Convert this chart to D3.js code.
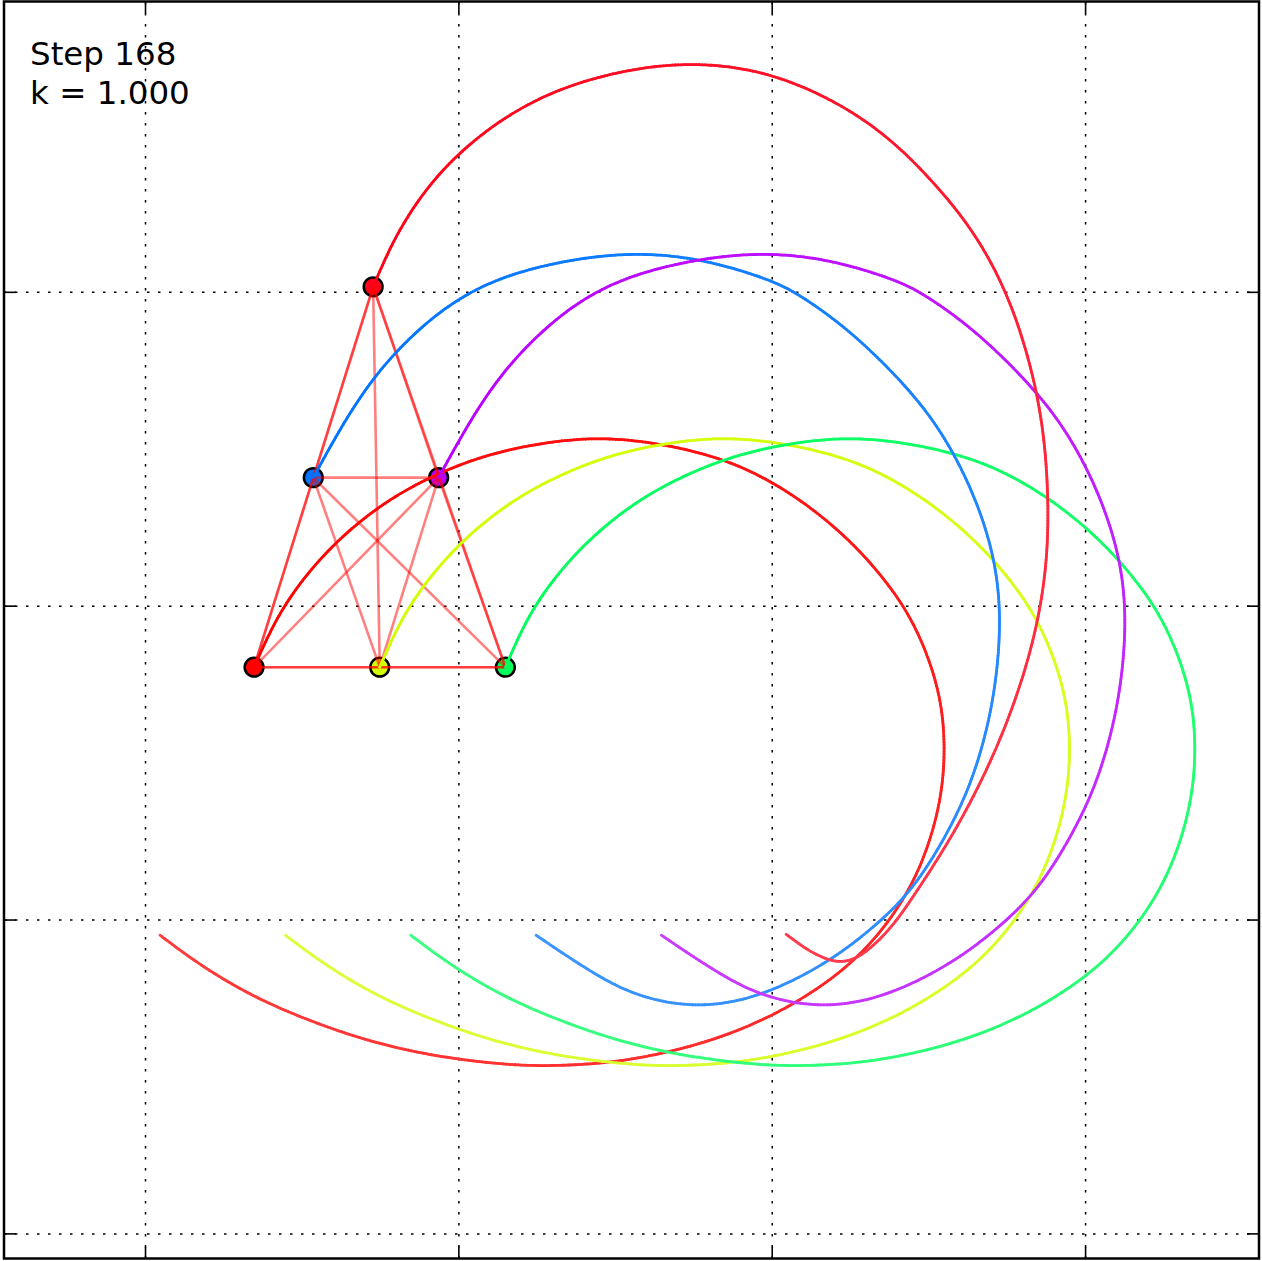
<!DOCTYPE html>
<html><head><meta charset="utf-8">
<script src="https://cdn.jsdelivr.net/npm/d3@7"></script>
<style>html,body{margin:0;padding:0;background:#fff;} svg{display:block;}</style>
</head><body>
<script>
// ---------- data ----------
const xTicks = [0, 1, 2, 3];
const yTicks = [0, 1, 2, 3];
const stepLabel = "Step 168";
const kLabel = "k = 1.000";
const particleColors = ["#ff0000", "#d1ff00", "#00ff5c", "#0074ff", "#b900ff", "#ff0018"];
const particleX = [0.348, 0.749, 1.150, 0.537, 0.937, 0.728];
const particleY = [1.804, 1.804, 1.804, 2.408, 2.408, 3.016];

const trail0X = [0.048,0.176,0.335,0.495,0.654,0.814,0.973,1.133,1.277,1.484,1.660,1.835,2.001,2.138,2.260,2.368,2.458,2.515,2.544,2.553,2.544,2.505,2.441,2.358,2.250,2.116,1.976,1.829,1.637,1.446,1.261,1.085,0.938,0.807,0.693,0.590,0.495,0.415,0.348];
const trail0Y = [0.950,0.854,0.759,0.689,0.631,0.587,0.558,0.539,0.532,0.542,0.574,0.622,0.692,0.772,0.864,0.982,1.125,1.278,1.412,1.540,1.683,1.827,1.970,2.088,2.209,2.321,2.410,2.474,2.519,2.538,2.519,2.480,2.423,2.356,2.276,2.184,2.075,1.954,1.804];

const trail1X = [0.448,0.576,0.735,0.895,1.054,1.214,1.373,1.533,1.677,1.884,2.060,2.235,2.401,2.538,2.660,2.768,2.858,2.915,2.944,2.953,2.944,2.905,2.841,2.758,2.650,2.516,2.376,2.229,2.037,1.846,1.661,1.485,1.338,1.207,1.093,0.990,0.895,0.815,0.749];
const trail1Y = [0.950,0.854,0.759,0.689,0.631,0.587,0.558,0.539,0.532,0.542,0.574,0.622,0.692,0.772,0.864,0.982,1.125,1.278,1.412,1.540,1.683,1.827,1.970,2.088,2.209,2.321,2.410,2.474,2.519,2.538,2.519,2.480,2.423,2.356,2.276,2.184,2.075,1.954,1.804];

const trail2X = [0.848,0.976,1.135,1.295,1.454,1.614,1.773,1.933,2.077,2.284,2.460,2.635,2.801,2.938,3.060,3.168,3.258,3.315,3.344,3.353,3.344,3.305,3.241,3.158,3.050,2.916,2.776,2.629,2.437,2.246,2.061,1.885,1.738,1.607,1.493,1.390,1.295,1.215,1.150];
const trail2Y = [0.950,0.854,0.759,0.689,0.631,0.587,0.558,0.539,0.532,0.542,0.574,0.622,0.692,0.772,0.864,0.982,1.125,1.278,1.412,1.540,1.683,1.827,1.970,2.088,2.209,2.321,2.410,2.474,2.519,2.538,2.519,2.480,2.423,2.356,2.276,2.184,2.075,1.954,1.804];

const trail3X = [1.248,1.427,1.573,1.762,1.953,2.157,2.304,2.419,2.499,2.569,2.627,2.675,2.710,2.729,2.726,2.700,2.652,2.585,2.499,2.381,2.231,2.084,1.998,1.784,1.564,1.344,1.133,0.980,0.852,0.737,0.638,0.537];
const trail3Y = [0.950,0.829,0.752,0.717,0.749,0.848,0.956,1.062,1.170,1.291,1.412,1.556,1.715,1.891,2.050,2.193,2.337,2.480,2.617,2.751,2.892,2.994,3.038,3.105,3.127,3.102,3.048,2.968,2.863,2.739,2.592,2.408];

const trail4X = [1.648,1.827,1.973,2.162,2.353,2.557,2.704,2.819,2.899,2.969,3.027,3.075,3.110,3.129,3.126,3.100,3.052,2.985,2.899,2.781,2.631,2.484,2.398,2.184,1.964,1.744,1.533,1.380,1.252,1.137,1.038,0.937];
const trail4Y = [0.950,0.829,0.752,0.717,0.749,0.848,0.956,1.062,1.170,1.291,1.412,1.556,1.715,1.891,2.050,2.193,2.337,2.480,2.617,2.751,2.892,2.994,3.038,3.105,3.127,3.102,3.048,2.968,2.863,2.739,2.592,2.408];

const trail5X = [2.046,2.122,2.202,2.266,2.339,2.400,2.448,2.528,2.614,2.697,2.767,2.824,2.863,2.882,2.882,2.869,2.840,2.786,2.716,2.627,2.521,2.410,2.288,2.154,2.011,1.867,1.720,1.580,1.433,1.293,1.165,1.050,0.948,0.862,0.788,0.728];
const trail5Y = [0.953,0.896,0.861,0.870,0.928,0.998,1.068,1.189,1.333,1.498,1.667,1.843,2.018,2.193,2.369,2.544,2.713,2.904,3.070,3.217,3.344,3.459,3.555,3.631,3.689,3.720,3.727,3.714,3.682,3.634,3.567,3.484,3.389,3.280,3.156,3.016];

const trailsX = [trail0X, trail1X, trail2X, trail3X, trail4X, trail5X];
const trailsY = [trail0Y, trail1Y, trail2Y, trail3Y, trail4Y, trail5Y];

// ---------- layout ----------
const W = 1262, H = 1261;
const L = 4, R = 1259, T = 1.5, B = 1258.5;

const x = d3.scaleLinear().domain([-0.45, 3.555]).range([L, R]);
const y = d3.scaleLinear().domain([-0.08, 3.925]).range([B, T]);

const svg = d3.select("body").append("svg").attr("width", W).attr("height", H);

// grid (dotted)
const gridG = svg.append("g");
gridG.append("g").attr("transform", `translate(0,${B})`)
  .call(d3.axisBottom(x).tickValues(xTicks).tickSize(-(B - T)).tickFormat(""))
  .call(g => g.select(".domain").remove());
gridG.append("g").attr("transform", `translate(${L},0)`)
  .call(d3.axisLeft(y).tickValues(yTicks).tickSize(-(R - L)).tickFormat(""))
  .call(g => g.select(".domain").remove());
gridG.selectAll(".tick line").attr("stroke", "#000").attr("stroke-width", 1.5)
  .attr("stroke-dasharray", "2.5,8.5");

// markers (bottom layer)
const idx = d3.range(particleX.length);
svg.append("g").selectAll("circle").data(idx).join("circle")
  .attr("cx", i => x(particleX[i])).attr("cy", i => y(particleY[i]))
  .attr("r", 9.4).attr("fill", i => particleColors[i])
  .attr("stroke", "#000").attr("stroke-width", 2.5);

// connecting lines between all particle pairs
const pairs = [];
idx.forEach(i => idx.forEach(j => { if (j > i) pairs.push([i, j]); }));
svg.append("g").selectAll("line").data(pairs).join("line")
  .attr("x1", p => x(particleX[p[0]])).attr("y1", p => y(particleY[p[0]]))
  .attr("x2", p => x(particleX[p[1]])).attr("y2", p => y(particleY[p[1]]))
  .attr("stroke", "#ff0000").attr("stroke-opacity", 0.5).attr("stroke-width", 2.6);

// trails with fade toward their start
const lineGen = d3.line().x(d => x(d[0])).y(d => y(d[1])).curve(d3.curveBasis);
const trailG = svg.append("g");
trailsX.forEach((tx, k) => {
  const pts = tx.map((v, i) => [v, trailsY[k][i]]);
  const tmp = trailG.append("path").attr("d", lineGen(pts)).attr("fill", "none").attr("stroke", "none");
  const node = tmp.node();
  const len = node.getTotalLength();
  const step = 3;
  const n = Math.ceil(len / step);
  const samples = d3.range(n + 1).map(s => node.getPointAtLength(Math.min(len, s * step)));
  const col = d3.interpolateRgb("#ffffff", particleColors[k]);
  const g = trailG.append("g");
  for (let s = 0; s < n; s++) {
    const t = s / n;
    g.append("line")
      .attr("x1", samples[s].x).attr("y1", samples[s].y)
      .attr("x2", samples[s + 1].x).attr("y2", samples[s + 1].y)
      .attr("stroke", col(0.76 + 0.24 * t))
      .attr("stroke-width", 2.8).attr("stroke-linecap", "round");
  }
  tmp.remove();
});

// frame
svg.append("rect").attr("x", L).attr("y", T).attr("width", R - L).attr("height", B - T)
  .attr("fill", "none").attr("stroke", "#000").attr("stroke-width", 2.5);

// inward tick marks on all four sides
const tickStyle = g => { g.select(".domain").remove(); g.selectAll(".tick line").attr("stroke", "#000").attr("stroke-width", 1.6); };
svg.append("g").attr("transform", `translate(0,${B})`)
  .call(d3.axisBottom(x).tickValues(xTicks).tickSizeInner(-12).tickSizeOuter(0).tickFormat("")).call(tickStyle);
svg.append("g").attr("transform", `translate(0,${T})`)
  .call(d3.axisTop(x).tickValues(xTicks).tickSizeInner(-12).tickSizeOuter(0).tickFormat("")).call(tickStyle);
svg.append("g").attr("transform", `translate(${L},0)`)
  .call(d3.axisLeft(y).tickValues(yTicks).tickSizeInner(-12).tickSizeOuter(0).tickFormat("")).call(tickStyle);
svg.append("g").attr("transform", `translate(${R},0)`)
  .call(d3.axisRight(y).tickValues(yTicks).tickSizeInner(-12).tickSizeOuter(0).tickFormat("")).call(tickStyle);

// annotation text
const txt = svg.append("g").attr("font-family", "'DejaVu Sans', sans-serif").attr("font-size", "32.5px").attr("fill", "#000");
txt.append("text").attr("x", 30).attr("y", 65).text(stepLabel);
txt.append("text").attr("x", 30).attr("y", 103.5).text(kLabel);
</script>
</body></html>
